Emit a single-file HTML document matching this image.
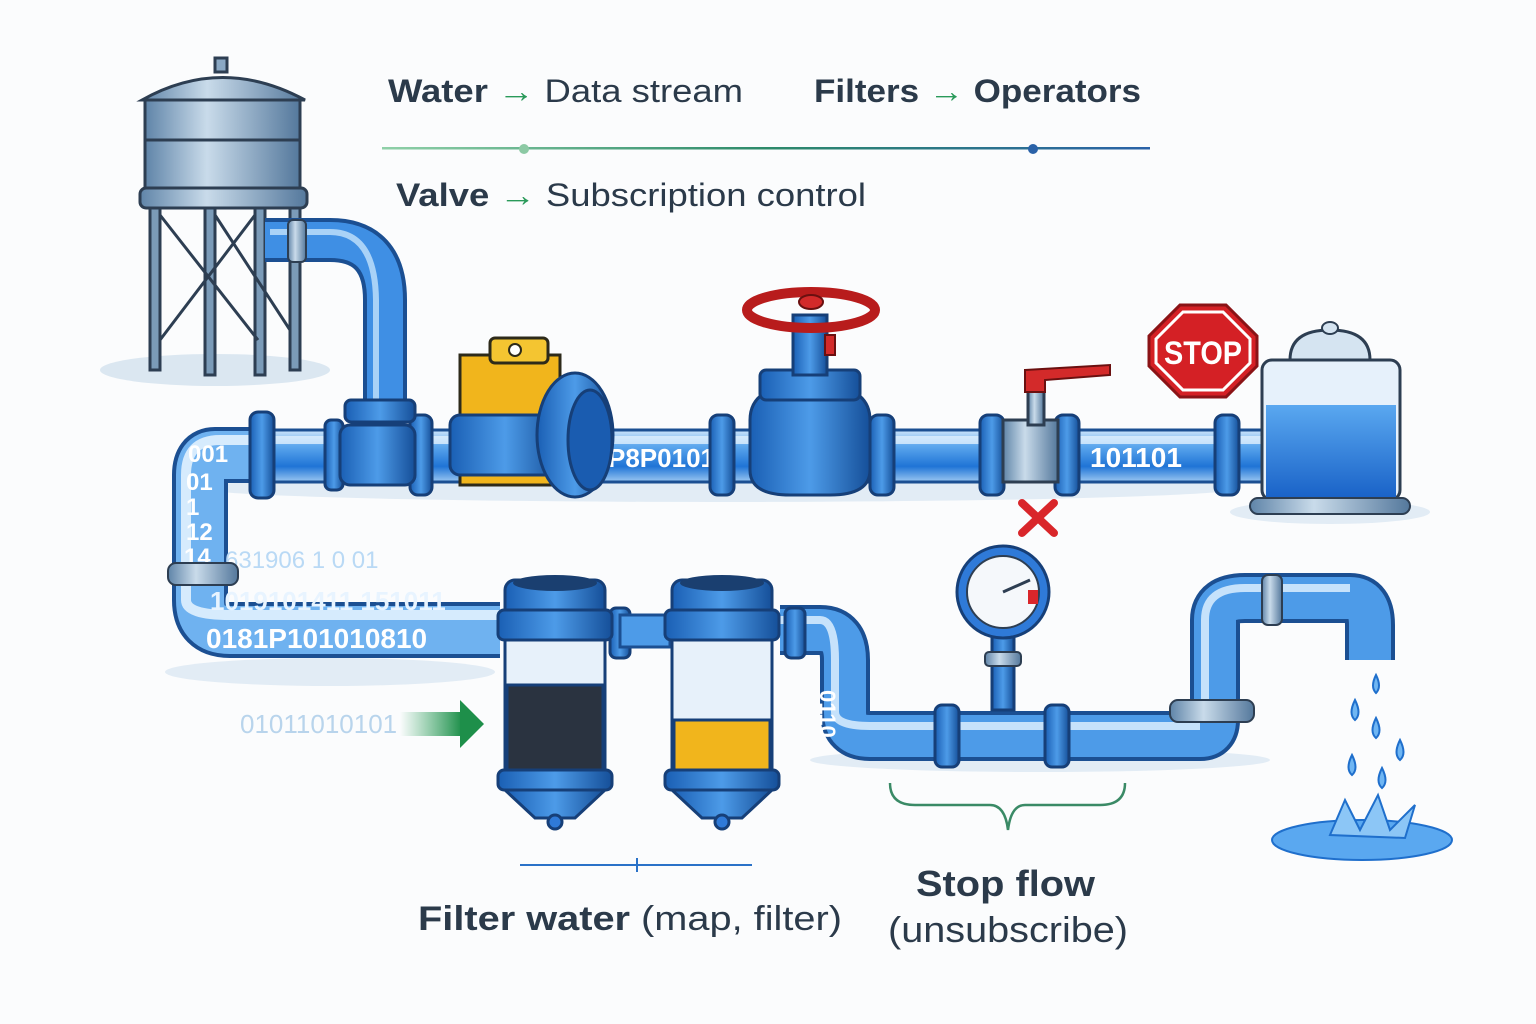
<!DOCTYPE html>
<html><head><meta charset="utf-8"><style>
html,body{margin:0;padding:0;background:#fbfcfd;}
svg{display:block;}
text{font-family:"Liberation Sans","DejaVu Sans",sans-serif;}
</style></head><body>
<svg width="1536" height="1024" viewBox="0 0 1536 1024" xmlns="http://www.w3.org/2000/svg">
<defs>
<linearGradient id="pipe" x1="0" y1="0" x2="0" y2="1">
<stop offset="0" stop-color="#cfe6fb"/><stop offset="0.3" stop-color="#5ea8ee"/><stop offset="0.7" stop-color="#1f74d6"/><stop offset="1" stop-color="#9cc8f2"/></linearGradient>
<linearGradient id="metal" x1="0" y1="0" x2="1" y2="0">
<stop offset="0" stop-color="#5f84a8"/><stop offset="0.4" stop-color="#c9dbea"/><stop offset="1" stop-color="#54789c"/></linearGradient>
<linearGradient id="flange" x1="0" y1="0" x2="1" y2="0">
<stop offset="0" stop-color="#1a5fb4"/><stop offset="0.5" stop-color="#4d9be8"/><stop offset="1" stop-color="#154f99"/></linearGradient>
<linearGradient id="line" x1="0" y1="0" x2="1" y2="0">
<stop offset="0" stop-color="#8fd0a8"/><stop offset="0.5" stop-color="#2d8a6a"/><stop offset="1" stop-color="#2a62a8"/></linearGradient>
<linearGradient id="garrow" x1="0" y1="0" x2="1" y2="0">
<stop offset="0" stop-color="#2aa05a" stop-opacity="0"/><stop offset="1" stop-color="#1e8f4a"/></linearGradient>
<linearGradient id="water" x1="0" y1="0" x2="0" y2="1">
<stop offset="0" stop-color="#5aa8f0"/><stop offset="1" stop-color="#1a63c8"/></linearGradient>
</defs>

<!-- header text -->
<text x="388" y="102" font-size="32" font-weight="bold" fill="#2b3a4a" textLength="355" lengthAdjust="spacingAndGlyphs">Water <tspan fill="#2a9a5a" font-weight="normal">→</tspan> <tspan font-weight="normal">Data stream</tspan></text>
<text x="814" y="102" font-size="32" font-weight="bold" fill="#2b3a4a" textLength="327" lengthAdjust="spacingAndGlyphs">Filters <tspan fill="#2a9a5a" font-weight="normal">→</tspan> Operators</text>
<rect x="382" y="147" width="768" height="2.5" fill="url(#line)"/>
<circle cx="524" cy="149" r="5" fill="#8cc9a4"/>
<circle cx="1033" cy="149" r="5" fill="#2a62a8"/>
<text x="396" y="206" font-size="32" font-weight="bold" fill="#2b3a4a" textLength="470" lengthAdjust="spacingAndGlyphs">Valve <tspan fill="#2a9a5a" font-weight="normal">→</tspan> <tspan font-weight="normal">Subscription control</tspan></text>

<!-- shadows -->
<ellipse cx="215" cy="370" rx="115" ry="16" fill="#dbe7f1"/>
<ellipse cx="720" cy="488" rx="520" ry="14" fill="#e2ecf5"/>
<ellipse cx="330" cy="672" rx="165" ry="14" fill="#e2ecf5"/>
<ellipse cx="1040" cy="760" rx="230" ry="12" fill="#e2ecf5"/>
<ellipse cx="1330" cy="512" rx="100" ry="12" fill="#e2ecf5"/>

<!-- water tower -->
<g stroke="#2d3e52" stroke-width="3">
<rect x="150" y="200" width="10" height="170" fill="#7b9bb8"/>
<rect x="205" y="200" width="10" height="175" fill="#7b9bb8"/>
<rect x="255" y="200" width="10" height="175" fill="#7b9bb8"/>
<rect x="290" y="200" width="10" height="170" fill="#7b9bb8"/>
<line x1="160" y1="215" x2="258" y2="340"/><line x1="255" y1="215" x2="160" y2="340"/>
<line x1="215" y1="215" x2="290" y2="330"/>
<rect x="140" y="188" width="167" height="20" rx="6" fill="url(#metal)"/>
<path d="M145 100 L300 100 L300 188 L145 188 Z" fill="url(#metal)"/>
<path d="M142 100 Q222 55 305 100 Z" fill="url(#metal)"/>
<rect x="215" y="58" width="12" height="14" fill="#8aa8c4"/>
<line x1="145" y1="140" x2="300" y2="140"/>
</g>
<!-- pipe from tower -->
<path d="M265 240 L330 240 Q385 240 385 300 L385 410" fill="none" stroke="#1b4f92" stroke-width="44"/>
<path d="M265 240 L330 240 Q385 240 385 300 L385 410" fill="none" stroke="#3f8fe4" stroke-width="36"/>
<path d="M270 232 L330 232 Q375 232 376 300 L376 405" fill="none" stroke="#a9d2f7" stroke-width="6"/>
<rect x="288" y="220" width="18" height="42" rx="5" fill="url(#metal)" stroke="#2d3e52" stroke-width="2"/>

<!-- left elbow & lower pipe -->
<path d="M255 455 L215 455 Q200 455 200 475 L200 600 Q200 630 230 630 L500 630" fill="none" stroke="#1b4f92" stroke-width="56"/>
<path d="M255 455 L215 455 Q200 455 200 475 L200 600 Q200 630 230 630 L500 630" fill="none" stroke="#6fb2f0" stroke-width="48"/>
<path d="M255 440 L220 440 Q186 440 186 475 L186 600 Q186 615 230 615 L500 615" fill="none" stroke="#d6ebfd" stroke-width="10"/>
<text x="188" y="462" font-size="24" font-weight="bold" fill="#fff">001</text>
<text x="186" y="490" font-size="24" font-weight="bold" fill="#fff">01</text>
<text x="186" y="515" font-size="24" font-weight="bold" fill="#fff">1</text>
<text x="186" y="540" font-size="24" font-weight="bold" fill="#fff">12</text>
<text x="184" y="565" font-size="24" font-weight="bold" fill="#fff">14</text>
<text x="225" y="568" font-size="24" fill="#b9d9f5">631906 1    0 01</text>
<text x="210" y="610" font-size="26" fill="#e8f4ff" font-weight="bold">1019101411 151011</text>
<text x="206" y="648" font-size="28" fill="#fff" font-weight="bold">0181P101010810</text>
<rect x="168" y="563" width="70" height="22" rx="8" fill="url(#metal)" stroke="#2d3e52" stroke-width="2"/>

<!-- top pipe -->
<rect x="255" y="430" width="1010" height="52" fill="url(#pipe)" stroke="#1b4f92" stroke-width="3"/>
<rect x="255" y="436" width="1010" height="8" fill="#e0f0fe" opacity="0.8"/>
<text x="608" y="467" font-size="26" font-weight="bold" fill="#fff">P8P0101</text>
<text x="1090" y="467" font-size="28" font-weight="bold" fill="#fff">101101</text>

<!-- flanges top -->
<g stroke="#163f78" stroke-width="3" fill="url(#flange)">
<rect x="250" y="412" width="24" height="86" rx="8"/>
<rect x="325" y="420" width="18" height="70" rx="6"/>
<rect x="410" y="415" width="22" height="80" rx="8"/>
<rect x="710" y="415" width="24" height="80" rx="8"/>
<rect x="870" y="415" width="24" height="80" rx="8"/>
<rect x="980" y="415" width="24" height="80" rx="8"/>
<rect x="1055" y="415" width="24" height="80" rx="8"/>
<rect x="1215" y="415" width="24" height="80" rx="8"/>
</g>
<rect x="345" y="400" width="70" height="22" rx="6" fill="url(#flange)" stroke="#163f78" stroke-width="3"/>
<rect x="340" y="425" width="75" height="60" rx="10" fill="url(#flange)" stroke="#163f78" stroke-width="3"/>

<!-- pump -->
<path d="M460 355 L560 355 L560 485 L460 485 Z" fill="#f1b51c" stroke="#2d2a1a" stroke-width="3"/>
<rect x="490" y="338" width="58" height="25" rx="5" fill="#f4c531" stroke="#2d2a1a" stroke-width="3"/>
<circle cx="515" cy="350" r="6" fill="#fff" stroke="#2d2a1a" stroke-width="2"/>
<rect x="450" y="415" width="110" height="60" rx="10" fill="url(#flange)" stroke="#163f78" stroke-width="3"/>
<ellipse cx="575" cy="435" rx="38" ry="62" fill="url(#flange)" stroke="#163f78" stroke-width="3"/>
<ellipse cx="590" cy="440" rx="22" ry="50" fill="#1a5cb0" stroke="#163f78" stroke-width="3"/>

<!-- valve -->
<path d="M750 420 Q750 390 790 385 L830 385 Q870 390 870 420 L870 470 Q870 495 830 495 L790 495 Q750 495 750 470 Z" fill="url(#flange)" stroke="#163f78" stroke-width="3"/>
<rect x="760" y="370" width="100" height="30" rx="6" fill="url(#flange)" stroke="#163f78" stroke-width="3"/>
<rect x="793" y="315" width="34" height="60" fill="url(#flange)" stroke="#163f78" stroke-width="3"/>
<ellipse cx="811" cy="310" rx="64" ry="18" fill="none" stroke="#b81c1c" stroke-width="10"/>
<ellipse cx="811" cy="302" rx="12" ry="7" fill="#d32a2a" stroke="#6a1010" stroke-width="2"/>
<rect x="825" y="335" width="10" height="20" fill="#d32a2a" stroke="#6a1010" stroke-width="2"/>

<!-- small valve -->
<rect x="1003" y="420" width="55" height="62" fill="url(#metal)" stroke="#2d3e52" stroke-width="3"/>
<rect x="1028" y="385" width="16" height="40" fill="url(#metal)" stroke="#2d3e52" stroke-width="3"/>
<path d="M1025 370 L1110 365 L1110 375 L1045 380 L1045 392 L1025 392 Z" fill="#d32a2a" stroke="#6a1010" stroke-width="2"/>

<!-- stop sign -->
<polygon points="1180,305 1226,305 1257,336 1257,366 1226,397 1180,397 1149,366 1149,336" fill="#d42025" stroke="#8a1316" stroke-width="3"/>
<polygon points="1183,312 1223,312 1250,339 1250,363 1223,390 1183,390 1156,363 1156,339" fill="none" stroke="#fff" stroke-width="3"/>
<text x="1203" y="364" font-size="32" font-weight="bold" fill="#fff" text-anchor="middle" textLength="78" lengthAdjust="spacingAndGlyphs">STOP</text>

<!-- tank -->
<rect x="1262" y="360" width="138" height="140" rx="10" fill="#e6f1fb" stroke="#2d3e52" stroke-width="3"/>
<rect x="1266" y="405" width="130" height="92" fill="url(#water)"/>
<path d="M1290 360 Q1290 330 1330 330 Q1370 330 1370 360 Z" fill="#d5e4f1" stroke="#2d3e52" stroke-width="3"/>
<ellipse cx="1330" cy="328" rx="8" ry="6" fill="#d5e4f1" stroke="#2d3e52" stroke-width="2"/>
<rect x="1250" y="498" width="160" height="16" rx="8" fill="url(#metal)" stroke="#2d3e52" stroke-width="2"/>

<!-- red x -->
<path d="M1022 503 L1054 533 M1054 503 L1022 533" stroke="#d9262a" stroke-width="8" stroke-linecap="round"/>

<!-- lower right pipe -->
<path d="M780 630 L820 630 Q845 630 845 660 L845 712 Q845 736 870 736 L1200 736 Q1215 736 1215 720 L1215 620 Q1215 598 1245 598 L1350 598 Q1370 598 1370 625 L1370 660" fill="none" stroke="#1b4f92" stroke-width="50"/>
<path d="M780 630 L820 630 Q845 630 845 660 L845 712 Q845 736 870 736 L1200 736 Q1215 736 1215 720 L1215 620 Q1215 598 1245 598 L1350 598 Q1370 598 1370 625 L1370 660" fill="none" stroke="#4d9be8" stroke-width="42"/>
<path d="M780 620 L820 620 Q835 620 835 660 L835 712 Q835 726 870 726 L1200 726 M1205 720 L1205 620 Q1205 588 1245 588 L1350 588" fill="none" stroke="#c6e2fb" stroke-width="8"/>
<text x="830" y="700" font-size="22" font-weight="bold" fill="#fff" transform="rotate(90 830 690)">0110</text>
<g stroke="#163f78" stroke-width="3" fill="url(#flange)">
<rect x="935" y="705" width="24" height="62" rx="7"/>
<rect x="1045" y="705" width="24" height="62" rx="7"/>
<rect x="610" y="608" width="20" height="50" rx="6"/>
<rect x="785" y="608" width="20" height="50" rx="6"/>
</g>
<rect x="1170" y="700" width="84" height="22" rx="8" fill="url(#metal)" stroke="#2d3e52" stroke-width="2"/>
<rect x="1262" y="575" width="20" height="50" rx="6" fill="url(#metal)" stroke="#2d3e52" stroke-width="2"/>
<rect x="620" y="615" width="50" height="32" fill="#4d9be8" stroke="#1b4f92" stroke-width="3"/>

<!-- gauge -->
<rect x="992" y="630" width="22" height="80" fill="url(#flange)" stroke="#163f78" stroke-width="3"/>
<rect x="985" y="652" width="36" height="14" rx="4" fill="url(#metal)" stroke="#2d3e52" stroke-width="2"/>
<circle cx="1003" cy="592" r="46" fill="#2f7ad8" stroke="#163f78" stroke-width="3"/>
<circle cx="1003" cy="592" r="36" fill="#f5f8fb" stroke="#2d3e52" stroke-width="2"/>
<line x1="1003" y1="592" x2="1030" y2="580" stroke="#2d3e52" stroke-width="3"/>
<rect x="1028" y="590" width="10" height="14" fill="#d9262a"/>

<!-- filters -->
<g stroke="#163f78" stroke-width="3">
<rect x="505" y="580" width="100" height="40" rx="10" fill="url(#flange)"/>
<rect x="498" y="610" width="114" height="30" rx="6" fill="url(#flange)"/>
<rect x="505" y="640" width="100" height="145" fill="#e7f1fa"/>
<rect x="507" y="685" width="96" height="98" fill="#2a3340"/>
<rect x="498" y="770" width="114" height="20" rx="6" fill="url(#flange)"/>
<path d="M505 790 L605 790 L575 818 L535 818 Z" fill="url(#flange)"/>
<circle cx="555" cy="822" r="7" fill="#2f7ad8"/>
<rect x="672" y="580" width="100" height="40" rx="10" fill="url(#flange)"/>
<rect x="665" y="610" width="114" height="30" rx="6" fill="url(#flange)"/>
<rect x="672" y="640" width="100" height="145" fill="#e7f1fa"/>
<rect x="674" y="720" width="96" height="63" fill="#f1b51c"/>
<rect x="665" y="770" width="114" height="20" rx="6" fill="url(#flange)"/>
<path d="M672 790 L772 790 L742 818 L702 818 Z" fill="url(#flange)"/>
<circle cx="722" cy="822" r="7" fill="#2f7ad8"/>
</g>
<ellipse cx="555" cy="583" rx="42" ry="8" fill="#1a3f70"/>
<ellipse cx="722" cy="583" rx="42" ry="8" fill="#1a3f70"/>

<!-- green arrow -->
<text x="240" y="733" font-size="26" fill="#b8d4ec">01011010101</text>
<rect x="400" y="712" width="62" height="24" fill="url(#garrow)"/>
<polygon points="460,700 484,724 460,748" fill="#1e8f4a"/>

<!-- drops & puddle -->
<g fill="#6fb6f3" stroke="#1f6fcc" stroke-width="2">
<path d="M1376 675 q-6 12 0 18 q6 -6 0 -18z"/>
<path d="M1355 700 q-7 14 0 20 q7 -6 0 -20z"/>
<path d="M1376 718 q-7 14 0 20 q7 -6 0 -20z"/>
<path d="M1400 740 q-7 14 0 20 q7 -6 0 -20z"/>
<path d="M1352 755 q-7 14 0 20 q7 -6 0 -20z"/>
<path d="M1382 768 q-7 14 0 20 q7 -6 0 -20z"/>
</g>
<ellipse cx="1362" cy="840" rx="90" ry="20" fill="#5aa8f0" stroke="#1f6fcc" stroke-width="2"/>
<path d="M1330 835 L1345 800 L1360 830 L1378 795 L1390 830 L1415 805 L1405 838 Z" fill="#8cc6f6" stroke="#1f6fcc" stroke-width="2"/>

<!-- brace & labels -->
<path d="M890 783 Q890 805 915 805 L990 805 Q1005 805 1008 830 Q1011 805 1025 805 L1100 805 Q1125 805 1125 783" fill="none" stroke="#3a8a66" stroke-width="2.5"/>
<text x="916" y="896" font-size="36" font-weight="bold" fill="#2b3a4a" textLength="179" lengthAdjust="spacingAndGlyphs">Stop flow</text>
<text x="888" y="942" font-size="36" fill="#2b3a4a" textLength="240" lengthAdjust="spacingAndGlyphs">(unsubscribe)</text>
<rect x="520" y="864" width="232" height="2" fill="#2a72c8"/>
<rect x="636" y="858" width="2" height="14" fill="#2a72c8"/>
<text x="418" y="930" font-size="34" fill="#2b3a4a" textLength="424" lengthAdjust="spacingAndGlyphs"><tspan font-weight="bold">Filter water</tspan> (map, filter)</text>
</svg>
</body></html>
